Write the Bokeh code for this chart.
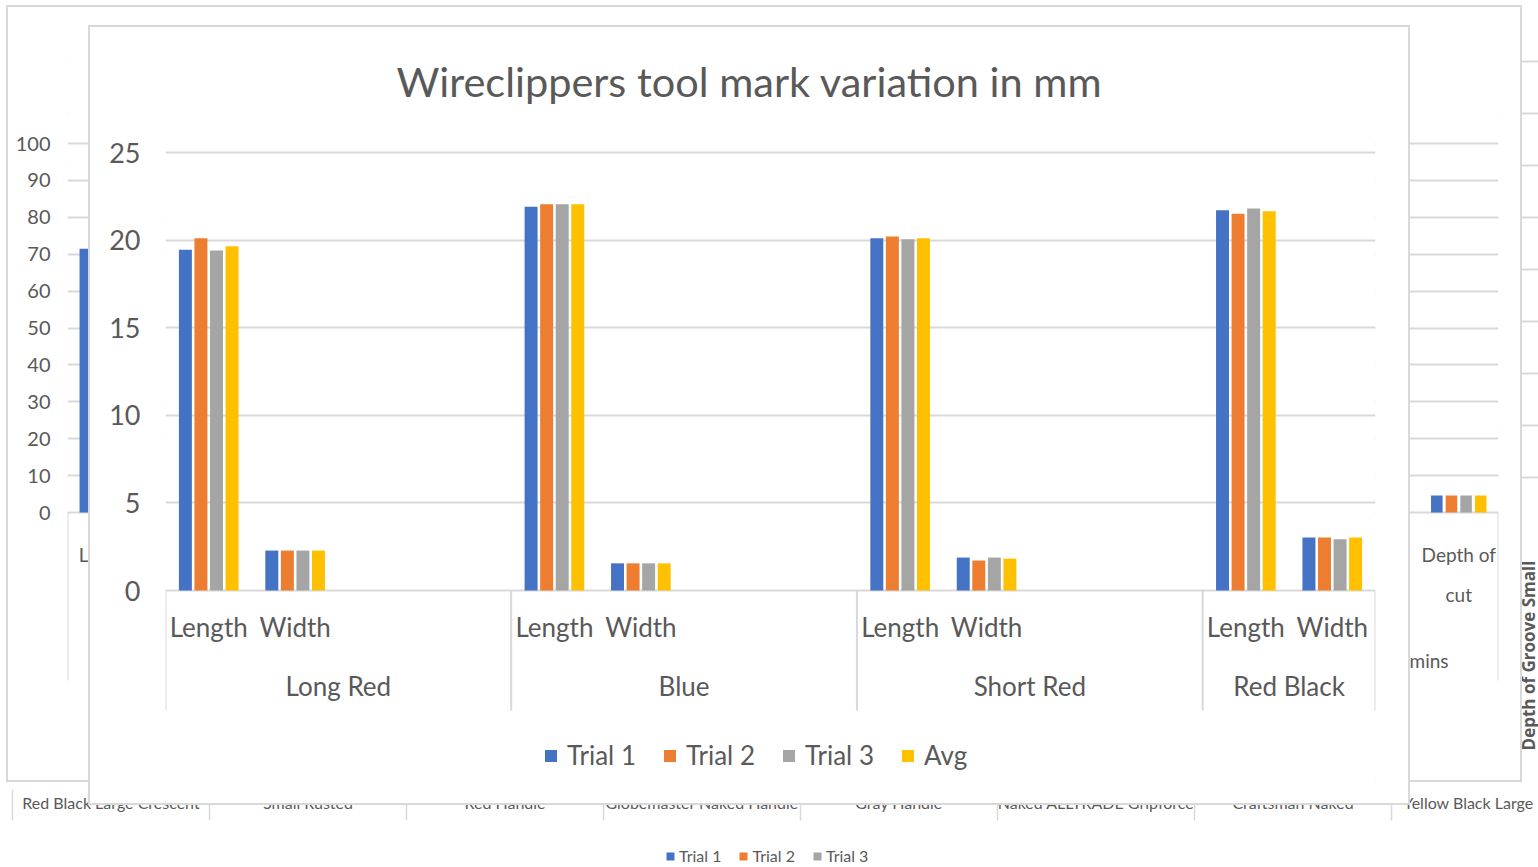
import math
from bokeh.plotting import figure
from bokeh.models import (ColumnDataSource, FactorRange, Range1d, FixedTicker,
                          Legend, LegendItem, Div)
from bokeh.transform import dodge
from bokeh.core.properties import value
from bokeh.embed import file_html
from bokeh.resources import INLINE

# ===================== DATA =====================
# front chart (mm)
front_title = "Wireclippers tool mark variation in mm"
tools = ["Long Red", "Blue", "Short Red", "Red Black"]
tool_slots = [
    ["Length", "Width", " ", "  "],
    ["Length", "Width", " ", "  "],
    ["Length", "Width", " ", "  "],
    ["Length", "Width"],
]
measures = ["Length", "Width"]
series = ["Trial 1", "Trial 2", "Trial 3", "Avg"]
trial_1 = [19.45, 2.28, 21.9, 1.55, 20.1, 1.88, 21.7, 3.02]
trial_2 = [20.1, 2.28, 22.05, 1.55, 20.2, 1.71, 21.5, 3.02]
trial_3 = [19.4, 2.28, 22.05, 1.55, 20.05, 1.88, 21.8, 2.92]
avg = [19.65, 2.28, 22.05, 1.55, 20.1, 1.82, 21.65, 3.02]
front_ticks = [0, 5, 10, 15, 20, 25]

# chart behind it (0-100 scale), only partly visible
back_groups = ["Long Red", "Blue", "Short Red", "Red Black", "in mins"]
back_slots = [
    ["Length", "Width", "Depth of cut", " "],
    ["Length", "Width", "Depth of cut", " "],
    ["Length", "Width", "Depth of cut", " "],
    ["Length", "Width", "Depth of cut", " "],
    ["Width", "Depth of cut"],
]
back_bar_factors = [("Long Red", "Length"), ("in mins", "Depth of cut")]
back_trial_1 = [71.5, 4.6]
back_trial_2 = [float("nan"), 4.6]
back_trial_3 = [float("nan"), 4.6]
back_avg = [float("nan"), 4.6]
back_ticks = [0, 10, 20, 30, 40, 50, 60, 70, 80, 90, 100]
back_label_factors = [("Long Red", "Length"), ("in mins", "Depth of cut"), ("in mins", "Depth of cut")]
back_label_lines = ["Length", "Depth of", "cut"]
back_group_label = "in mins"

# rearmost chart, only its bottom strip is visible (its bars are fully hidden)
rear_categories = ["Red Black Large Crescent", "Small Rusted", "Red Handle",
                   "Globemaster Naked Handle", "Gray Handle", "Naked ALLTRADE Gripforce",
                   "Craftsman Naked", "Yellow Black Large"]
rear_series = ["Trial 1", "Trial 2", "Trial 3"]
rear_hidden_values = [float("nan")]
rear_ticks = [60, 70, 80, 90, 100, 110, 120, 130, 140]
rear_axis_title = "Depth of Groove Small"

# ===================== STYLE =====================
TEXT = "#595959"
GRID = "#D9D9D9"
COLORS = ["#4472C4", "#ED7D31", "#A5A5A5", "#FFC000"]
FONT = "Lato"


def place(left, top):
    return {"position": "absolute", "left": f"{left}px", "top": f"{top}px", "margin": "0px"}


def frame_box(box):
    x0, y0, x1, y1 = box
    st = place(x0, y0)
    st.update({"border": "2px solid #D9D9D9", "box-sizing": "border-box",
               "pointer-events": "none", "background": "transparent"})
    return Div(text="", width=x1 - x0, height=y1 - y0, margin=(0, 0, 0, 0), styles=st)


def base_fig(w, h, xr, yr, **kw):
    p = figure(width=w, height=h, x_range=xr, y_range=yr, output_backend="svg",
               toolbar_location=None, x_axis_location=None, margin=(0, 0, 0, 0), **kw)
    p.background_fill_color = "white"
    p.border_fill_color = "white"
    p.outline_line_color = None
    p.xgrid.visible = False
    return p


def style_yaxis(ax, ticks, size, standoff):
    ax.ticker = FixedTicker(ticks=ticks)
    ax.axis_line_color = None
    ax.major_tick_line_color = None
    ax.minor_tick_line_color = None
    ax.major_tick_out = 0
    ax.major_tick_in = 0
    ax.minor_tick_out = 0
    ax.minor_tick_in = 0
    ax.major_label_text_font = FONT
    ax.major_label_text_font_size = size
    ax.major_label_text_color = TEXT
    ax.major_label_standoff = standoff


# ===================== REAR CHART (A) =====================
AX0, AY0, AX1, AY1 = 0, 0, 1538, 867
A_LEFT, A_SLOT = 12, 197.0
A_ZERO, A_PX = 789.0, 5.2
axr = Range1d((AX0 - A_LEFT) / A_SLOT, (AX1 - A_LEFT) / A_SLOT)
ayr = Range1d((A_ZERO - AY1) / A_PX, (A_ZERO - AY0) / A_PX)
pA = base_fig(AX1 - AX0, AY1 - AY0, axr, ayr, y_axis_location=None,
              min_border_left=0, min_border_right=0, min_border_top=0, min_border_bottom=0)
pA.ygrid.visible = False
n_a = len(rear_categories)
# horizontal value gridlines of the rear chart (start at its plot-area edge)
pA.segment(x0=[0] * len(rear_ticks), x1=[axr.end] * len(rear_ticks), y0=rear_ticks, y1=rear_ticks,
           line_color=GRID, line_width=2)
a_bounds = list(range(n_a + 1))
pA.segment(x0=a_bounds, x1=a_bounds, y0=[0] * len(a_bounds),
           y1=[(A_ZERO - 820) / A_PX] * len(a_bounds), line_color=GRID, line_width=1.5)
a_x = [i + 0.5 for i in range(n_a - 1)] + [(1533 - A_LEFT) / A_SLOT]
a_align = ["center"] * (n_a - 1) + ["right"]
pA.text(x=a_x, y=[(A_ZERO - 802) / A_PX] * n_a, text=rear_categories, text_align=a_align,
        text_baseline="middle", text_font=value(FONT), text_font_size="16px", text_color=TEXT)
pA.text(x=[(1527.5 - A_LEFT) / A_SLOT], y=[(A_ZERO - 655) / A_PX], text=[rear_axis_title],
        angle=math.pi / 2, text_align="center", text_baseline="middle",
        text_font=value("Open Sans"), text_font_style="bold", text_font_size="17px", text_color=TEXT)
a_items = []
for s, c in zip(rear_series, COLORS):
    r = pA.vbar(x=[0.5], top=rear_hidden_values, width=0.15, fill_color=c, line_color=None)
    a_items.append(LegendItem(label=s, renderers=[r]))
pA.add_layout(Legend(items=a_items, orientation="horizontal", location=(665 - AX0, 2),
                     label_text_font=FONT, label_text_font_size="16px", label_text_color=TEXT,
                     glyph_width=10, glyph_height=10, label_standoff=4, spacing=17,
                     padding=0, margin=0, border_line_color=None, background_fill_alpha=0))
pA.styles = place(0, 0)

# ===================== BACK CHART (B) =====================
B_BOX = (6, 5, 1522, 782)
BL, BR = 67, 1498
B_ZERO, B_TOP = 512.0, 143.0
b_px = (B_ZERO - B_TOP) / 100.0
back_factors = [(g, s) for g, sl in zip(back_groups, back_slots) for s in sl]
bxr = FactorRange(*back_factors, factor_padding=0, group_padding=0, range_padding=0)
byr = Range1d((B_ZERO - B_BOX[3]) / b_px, (B_ZERO - B_BOX[1]) / b_px)
pB = base_fig(B_BOX[2] - B_BOX[0], B_BOX[3] - B_BOX[1], bxr, byr,
              min_border_left=BL - B_BOX[0], min_border_right=B_BOX[2] - BR,
              min_border_top=0, min_border_bottom=0)
style_yaxis(pB.yaxis[0], back_ticks, "20px", BL - 50)
pB.ygrid.ticker = FixedTicker(ticks=back_ticks)
pB.ygrid.grid_line_color = GRID
pB.ygrid.grid_line_width = 2
b_src = ColumnDataSource(dict(x=back_bar_factors, t1=back_trial_1, t2=back_trial_2,
                              t3=back_trial_3, avg=back_avg))
for col, c, off in zip(["t1", "t2", "t3", "avg"], COLORS, [-0.276, -0.092, 0.092, 0.276]):
    pB.vbar(x=dodge("x", off, range=bxr), top=col, width=0.145, source=b_src,
            fill_color=c, line_color=None)
b_bounds = [0]
for sl in back_slots:
    b_bounds.append(b_bounds[-1] + len(sl))
pB.segment(x0=b_bounds, x1=b_bounds, y0=[0] * len(b_bounds),
           y1=[(B_ZERO - 680) / b_px] * len(b_bounds), line_color=GRID, line_width=2)
pB.text(x=back_label_factors, y=[(B_ZERO - 554) / b_px, (B_ZERO - 554) / b_px, (B_ZERO - 594) / b_px],
        text=back_label_lines, text_align="center", text_baseline="middle",
        text_font=value(FONT), text_font_size="19px", text_color=TEXT)
pB.text(x=[back_group_label], y=[(B_ZERO - 660) / b_px], text=[back_group_label],
        text_align="center", text_baseline="middle",
        text_font=value(FONT), text_font_size="19px", text_color=TEXT)
pB.styles = place(B_BOX[0], B_BOX[1])

# ===================== FRONT CHART (C) =====================
C_BOX = (88, 25, 1410, 805)
FL, FR = 165, 1375
Y_ZERO, Y_25 = 590.0, 152.0
c_px = (Y_ZERO - Y_25) / 25.0
factors = [(t, s) for t, sl in zip(tools, tool_slots) for s in sl]
n_slots = len(factors)
slot_px = (FR - FL) / n_slots
cxr = FactorRange(*factors, factor_padding=0, group_padding=0, range_padding=0)
cyr = Range1d((Y_ZERO - C_BOX[3]) / c_px, (Y_ZERO - C_BOX[1]) / c_px)
pC = base_fig(C_BOX[2] - C_BOX[0], C_BOX[3] - C_BOX[1], cxr, cyr,
              min_border_left=FL - C_BOX[0], min_border_right=C_BOX[2] - FR,
              min_border_top=0, min_border_bottom=0)
style_yaxis(pC.yaxis[0], front_ticks, "27px", FL - 140)
pC.ygrid.ticker = FixedTicker(ticks=front_ticks)
pC.ygrid.grid_line_color = GRID
pC.ygrid.grid_line_width = 2

bar_x = [(t, m) for t in tools for m in measures]
c_src = ColumnDataSource(dict(x=bar_x, t1=trial_1, t2=trial_2, t3=trial_3, avg=avg))
items = []
for name, col, c, off in zip(series, ["t1", "t2", "t3", "avg"], COLORS, [-0.27, -0.09, 0.09, 0.27]):
    r = pC.vbar(x=dodge("x", off, range=cxr), top=col, width=0.15, source=c_src,
                fill_color=c, line_color=None)
    items.append(LegendItem(label=name, renderers=[r]))

c_bounds = [0]
for sl in tool_slots:
    c_bounds.append(c_bounds[-1] + len(sl))
pC.segment(x0=c_bounds, x1=c_bounds, y0=[0] * len(c_bounds),
           y1=[(Y_ZERO - 710) / c_px] * len(c_bounds), line_color=GRID, line_width=2)
pC.text(x=bar_x, y=[(Y_ZERO - 626) / c_px] * len(bar_x), text=[m for _, m in bar_x],
        text_align="center", text_baseline="middle",
        text_font=value(FONT), text_font_size="26px", text_color=TEXT)
pC.text(x=tools, y=[(Y_ZERO - 685) / c_px] * len(tools), text=tools,
        text_align="center", text_baseline="middle",
        text_font=value(FONT), text_font_size="26px", text_color=TEXT)
pC.text(x=[(749 - FL) / slot_px], y=[(Y_ZERO - 80) / c_px], text=[front_title],
        text_align="center", text_baseline="middle",
        text_font=value(FONT), text_font_size="41.5px", text_color=TEXT)
pC.add_layout(Legend(items=items, orientation="horizontal", location=(543 - FL, C_BOX[3] - 771),
                     label_text_font=FONT, label_text_font_size="26px", label_text_color=TEXT,
                     glyph_width=15, glyph_height=15, label_standoff=9, spacing=26,
                     padding=0, margin=0, border_line_color=None, background_fill_alpha=0))
pC.styles = place(C_BOX[0], C_BOX[1])

roots = [pA, pB, frame_box(B_BOX), pC, frame_box(C_BOX)]
open("out.html", "w").write(file_html(roots, INLINE))
